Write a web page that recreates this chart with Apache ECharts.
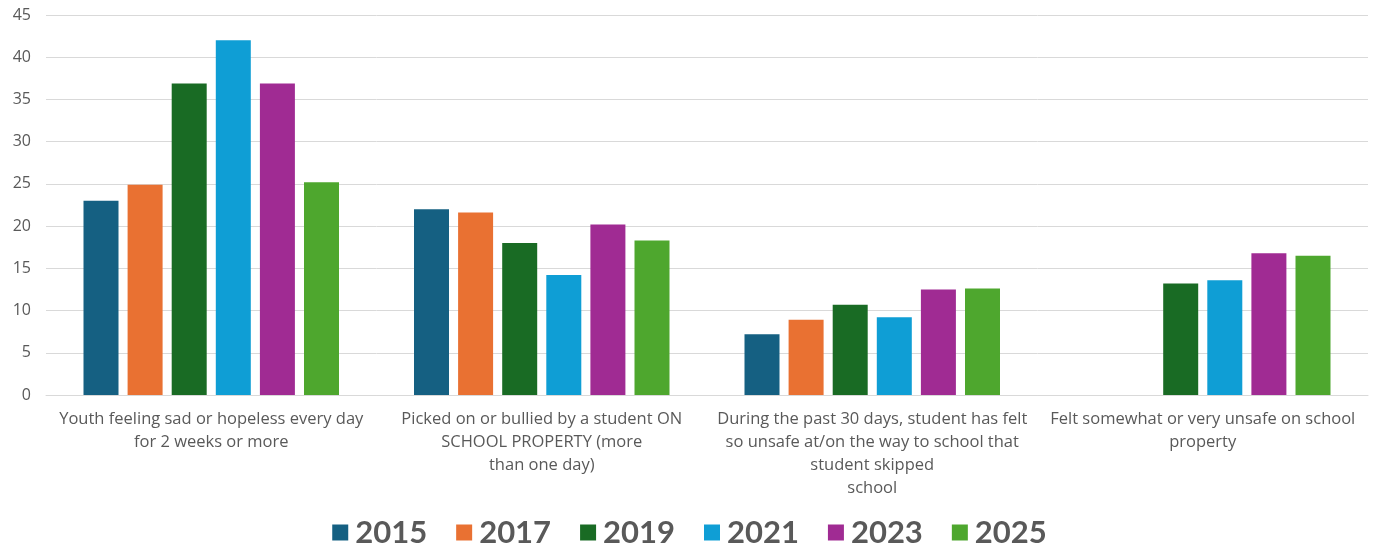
<!DOCTYPE html>
<html>
<head>
<meta charset="utf-8">
<script src="https://cdn.jsdelivr.net/npm/echarts@6/dist/echarts.min.js"></script>
<style>
  html, body { margin: 0; padding: 0; background: #ffffff; }
  #chart { width: 1379px; height: 546px; }
</style>
</head>
<body>
<div id="chart"></div>
<script>
const categories = [
  "Youth feeling sad or hopeless every day\nfor 2 weeks or more",
  "Picked on or bullied by a student ON\nSCHOOL PROPERTY (more\nthan one day)",
  "During the past 30 days, student has felt\nso unsafe at/on the way to school that\nstudent skipped\nschool",
  "Felt somewhat or very unsafe on school\nproperty"
];
const years = ["2015", "2017", "2019", "2021", "2023", "2025"];
const v2015 = [23.0, 22.0, 7.2, null];
const v2017 = [24.9, 21.6, 8.9, null];
const v2019 = [36.9, 18.0, 10.7, 13.2];
const v2021 = [42.0, 14.2, 9.2, 13.6];
const v2023 = [36.9, 20.2, 12.5, 16.8];
const v2025 = [25.2, 18.3, 12.6, 16.5];
const seriesValues = [v2015, v2017, v2019, v2021, v2023, v2025];
const colors = ["#156082", "#E97132", "#196B24", "#0F9ED5", "#A02B93", "#4EA72E"];
const yTicks = { min: 0, max: 45, interval: 5 };

const chart = echarts.init(document.getElementById('chart'));
chart.setOption({
  animation: false,
  color: colors,
  grid: { left: 46, right: 11, top: 15, bottom: 151, containLabel: false },
  legend: {
    top: 512,
    left: 'center',
    itemWidth: 16,
    itemHeight: 16,
    itemGap: 29,
    icon: 'rect',
    textStyle: { fontFamily: 'Lato', fontWeight: 'bold', fontSize: 31, color: '#595959', padding: [0, 0, 0, 2] },
    data: years
  },
  xAxis: {
    type: 'category',
    data: categories,
    axisLine: { show: true, lineStyle: { color: '#d9d9d9', width: 1 } },
    axisTick: { show: false },
    axisLabel: {
      interval: 0,
      margin: 13,
      fontFamily: 'Open Sans',
      fontSize: 16.5,
      lineHeight: 23,
      color: '#595959',
      align: 'center'
    }
  },
  yAxis: {
    type: 'value',
    min: yTicks.min,
    max: yTicks.max,
    interval: yTicks.interval,
    axisLine: { show: false },
    axisTick: { show: false },
    splitLine: { lineStyle: { color: '#d9d9d9', width: 1 } },
    axisLabel: { fontFamily: 'Open Sans', fontSize: 16, color: '#595959', margin: 15 }
  },
  series: years.map((y, i) => ({
    name: y,
    type: 'bar',
    data: seriesValues[i],
    barWidth: 35,
    barGap: '26%',
    itemStyle: { color: colors[i] }
  }))
});
</script>
</body>
</html>
